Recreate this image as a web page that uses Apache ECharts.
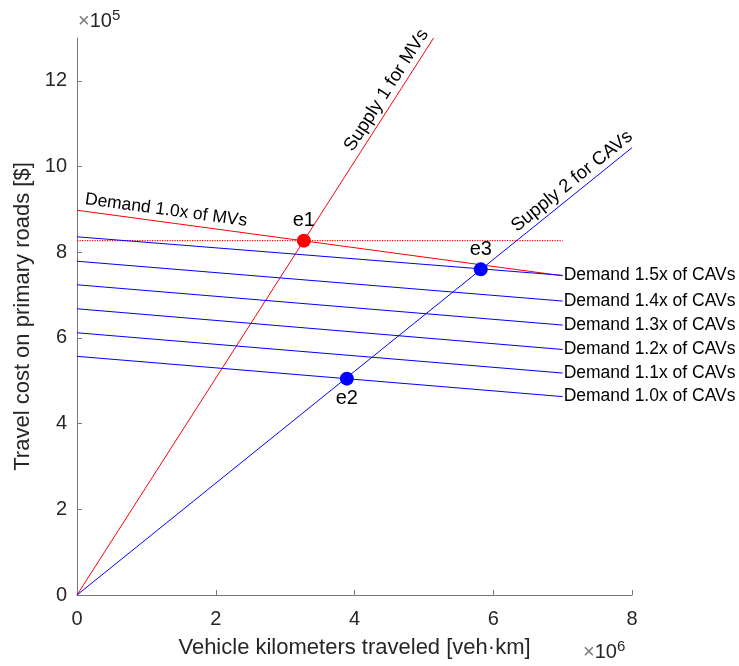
<!DOCTYPE html>
<html>
<head>
<meta charset="utf-8">
<script src="https://cdn.jsdelivr.net/npm/echarts@6/dist/echarts.min.js"></script>
<style>
html,body{margin:0;padding:0;background:#fff;}
#c{width:739px;height:666px;}
</style>
</head>
<body>
<div id="c"></div>
<script>
// ---- data (x in 10^6 veh·km, y in 10^5 $) ----
const supplyMV = [[0, 0], [5.14, 13.0]];
const supplyCAV = [[0, 0], [8.0, 10.44]];
const demandMV = [[0, 8.98], [7.0, 7.45]];
const demandMVLevel = 8.27;
const demandCAVNames = ['Demand 1.0x of CAVs', 'Demand 1.1x of CAVs', 'Demand 1.2x of CAVs', 'Demand 1.3x of CAVs', 'Demand 1.4x of CAVs', 'Demand 1.5x of CAVs'];
const demandCAVStart = [5.57, 6.12, 6.68, 7.24, 7.79, 8.36];
const demandCAVEnd = [4.63, 5.18, 5.73, 6.30, 6.86, 7.46];
const demandX = [0, 7.0];
const eqNames = ['e1', 'e2', 'e3'];
const eqPoints = [[3.27, 8.27], [3.89, 5.05], [5.82, 7.60]];
const eqColors = ['#ff0000', '#0000ff', '#0000ff'];
const xTicks = [0, 2, 4, 6, 8];
const yTicks = [0, 2, 4, 6, 8, 10, 12];

const FONT = '"Liberation Sans", Arial, Helvetica, sans-serif';
const RED = '#ff0000', BLUE = '#0000ff';

const chart = echarts.init(document.getElementById('c'), null, {renderer: 'canvas'});

const series = [];
series.push({type: 'line', data: supplyMV, symbol: 'none', lineStyle: {color: RED, width: 1}, silent: true, z: 3});
series.push({type: 'line', data: supplyCAV, symbol: 'none', lineStyle: {color: BLUE, width: 1}, silent: true, z: 3});
series.push({type: 'line', data: demandMV, symbol: 'none', lineStyle: {color: RED, width: 1}, silent: true, z: 3});
series.push({type: 'line', data: [[demandX[0], demandMVLevel], [demandX[1], demandMVLevel]], symbol: 'none',
  lineStyle: {color: RED, width: 1.2, type: [1.2, 1.3]}, silent: true, z: 2});
demandCAVNames.forEach((n, i) => {
  series.push({type: 'line', name: n, data: [[demandX[0], demandCAVStart[i]], [demandX[1], demandCAVEnd[i]]],
    symbol: 'none', lineStyle: {color: BLUE, width: 1}, silent: true, z: 3,
    endLabel: {show: true, formatter: n, color: '#000', fontFamily: FONT, fontSize: 17.5, distance: 1}});
});
eqPoints.forEach((p, i) => {
  series.push({type: 'scatter', data: [p], symbolSize: 14, itemStyle: {color: eqColors[i], opacity: 1}, silent: true, z: 5,
    label: {show: true, formatter: eqNames[i], position: i === 1 ? 'bottom' : 'top', distance: 3,
      color: '#000', fontFamily: FONT, fontSize: 20}});
});

chart.setOption({
  animation: false,
  backgroundColor: '#fff',
  grid: {left: 77, right: 107, top: 38, bottom: 71, containLabel: false},
  xAxis: {
    type: 'value', min: 0, max: 8, interval: 2,
    name: 'Vehicle kilometers traveled [veh·km]', nameLocation: 'middle', nameGap: 42,
    nameTextStyle: {color: '#262626', fontFamily: FONT, fontSize: 22},
    axisLine: {show: true, lineStyle: {color: '#777', width: 1}},
    axisTick: {show: true, inside: true, length: 5, lineStyle: {color: '#777'}, customValues: xTicks},
    axisLabel: {color: '#262626', fontFamily: FONT, fontSize: 20, margin: 14, customValues: xTicks},
    splitLine: {show: false}
  },
  yAxis: {
    type: 'value', min: 0, max: 13, interval: 2,
    name: 'Travel cost on primary roads [$]', nameLocation: 'middle', nameGap: 42, nameRotate: 90,
    nameTextStyle: {color: '#262626', fontFamily: FONT, fontSize: 22},
    axisLine: {show: true, lineStyle: {color: '#777', width: 1}},
    axisTick: {show: true, inside: true, length: 5, lineStyle: {color: '#777'}, customValues: yTicks},
    axisLabel: {color: '#262626', fontFamily: FONT, fontSize: 20, margin: 10, customValues: yTicks},
    splitLine: {show: false}
  },
  series: series
});

function px(p) { return chart.convertToPixel({gridIndex: 0}, p); }
function lineLabel(text, seg, t, offset, size) {
  const a = px(seg[0]), b = px(seg[1]);
  const ang = Math.atan2(-(b[1] - a[1]), b[0] - a[0]);
  const x = a[0] + (b[0] - a[0]) * t, y = a[1] + (b[1] - a[1]) * t;
  const nx = -Math.sin(ang), ny = -Math.cos(ang);
  return {type: 'text', x: x + nx * offset, y: y + ny * offset, rotation: ang, z: 10,
    style: {text: text, fill: '#000', font: size + 'px ' + FONT, align: 'center', verticalAlign: 'bottom'}};
}
function mult(x, y, exp) {
  return {type: 'text', x: x, y: y, z: 10, style: {text: '{a|×}{b|10}{c|' + exp + '}', verticalAlign: 'bottom',
    rich: {a: {fill: '#777', font: '20px ' + FONT}, b: {fill: '#262626', font: '20px ' + FONT},
      c: {fill: '#262626', font: '15px ' + FONT, verticalAlign: 'top', padding: [0, 0, 11, 0]}}}};
}
const gr = [
  lineLabel('Supply 1 for MVs', supplyMV, 0.895, 2, 18.5),
  lineLabel('Supply 2 for CAVs', supplyCAV, 0.905, 2, 18.5),
  lineLabel('Demand 1.0x of MVs', demandMV, 0.18, 3, 17.5),
  mult(78, 34, '5'),
  mult(583, 665, '6')
];
chart.setOption({graphic: gr});
</script>
</body>
</html>
